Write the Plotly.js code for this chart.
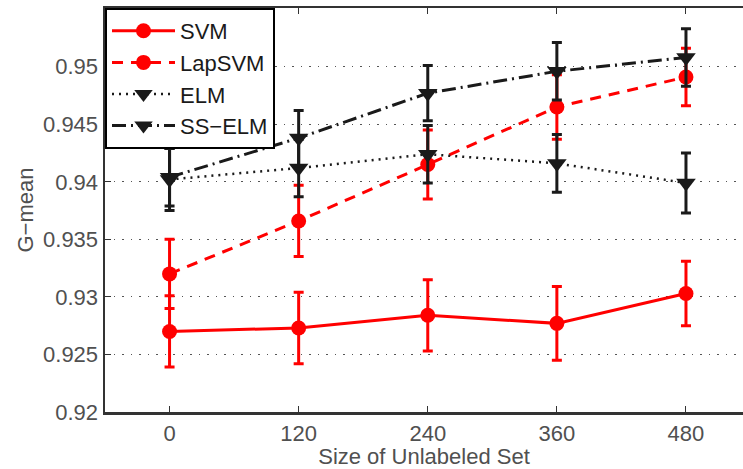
<!DOCTYPE html>
<html><head><meta charset="utf-8">
<script src="https://cdn.plot.ly/plotly-3.0.1.min.js"></script>
<style>html,body{margin:0;padding:0;background:#fff;overflow:hidden}#chart{width:743px;height:469px}</style>
</head><body><div id="chart"></div>
<script>
const sizes = [0, 120, 240, 360, 480];
const svm = [0.9270, 0.9273, 0.9284, 0.9277, 0.9303];
const svmErr = [0.0031, 0.0031, 0.0031, 0.0032, 0.0028];
const lapsvm = [0.9320, 0.9366, 0.9415, 0.9465, 0.9491];
const lapsvmErr = [0.0030, 0.0031, 0.0030, 0.0028, 0.0025];
const elm = [0.9402, 0.9412, 0.9424, 0.9416, 0.9399];
const elmErr = [0.0027, 0.0025, 0.0025, 0.0025, 0.0026];
const sselm = [0.9404, 0.9438, 0.9477, 0.9496, 0.9508];
const sselmErr = [0.0025, 0.0024, 0.0024, 0.0025, 0.0025];
const yTicks = [0.92, 0.925, 0.93, 0.935, 0.94, 0.945, 0.95];
const yTickText = ['0.92', '0.925', '0.93', '0.935', '0.94', '0.945', '0.95'];
const xTicks = [0, 120, 240, 360, 480];
const xTickText = ['0', '120', '240', '360', '480'];

const RED = '#ff0000', BLK = '#1a1a1a';
function tr(name, y, err, color, dash, width, symbol, msize, grp) {
  return {
    x: sizes, y: y, name: name, type: 'scatter', mode: 'lines+markers',
    legendgroup: grp,
    line: {color: color, dash: dash, width: width},
    marker: {symbol: symbol, size: msize, color: color},
    error_y: {type: 'data', array: err, visible: true, color: color, thickness: 3, width: 5}
  };
}
const data = [
  tr('SVM', svm, svmErr, RED, 'solid', 3, 'circle', 15, 'a'),
  tr('LapSVM', lapsvm, lapsvmErr, RED, '11px,8px', 3, 'circle', 15, 'b'),
  tr('ELM', elm, elmErr, BLK, '2px,5px', 2.5, 'triangle-down', 17, 'c'),
  tr('SS\u2212ELM', sselm, sselmErr, BLK, '14px,5px,2px,5px', 3, 'triangle-down', 17, 'd')
];
const fam = 'Liberation Sans, Arial, Helvetica, sans-serif';
const fnt = {family: fam, size: 22, color: '#505050'};
const layout = {
  width: 743, height: 469,
  margin: {l: 105, r: 0, t: 8, b: 57},
  paper_bgcolor: '#fff', plot_bgcolor: '#fff',
  font: fnt,
  showlegend: true,
  legend: {
    x: 0, y: 1, xanchor: 'left', yanchor: 'top',
    bgcolor: '#fff', bordercolor: '#000', borderwidth: 2,
    font: {family: fam, size: 22, color: '#1a1a1a'},
    itemwidth: 63, traceorder: 'grouped', tracegroupgap: 0
  },
  xaxis: {
    range: [-60, 533], tickvals: xTicks, ticktext: xTickText,
    ticks: 'inside', ticklen: 6, tickwidth: 1, tickcolor: '#333',
    showline: true, linecolor: '#333', linewidth: 2.5, mirror: 'ticks',
    showgrid: false, zeroline: false,
    tickfont: fnt,
    title: {text: 'Size of Unlabeled Set', font: fnt, standoff: 0}
  },
  yaxis: {
    range: [0.92, 0.9551], tickvals: yTicks, ticktext: yTickText,
    ticks: 'inside', ticklen: 6, tickwidth: 1, tickcolor: '#333',
    showline: true, linecolor: '#333', linewidth: 2.5,
    showgrid: true, gridcolor: '#555', griddash: '1.5px,7px', gridwidth: 1.2,
    zeroline: false,
    tickfont: fnt,
    title: {text: 'G\u2212mean', font: fnt, standoff: 4}
  }
};
Plotly.newPlot('chart', data, layout, {staticPlot: true, displayModeBar: false});
</script></body></html>
